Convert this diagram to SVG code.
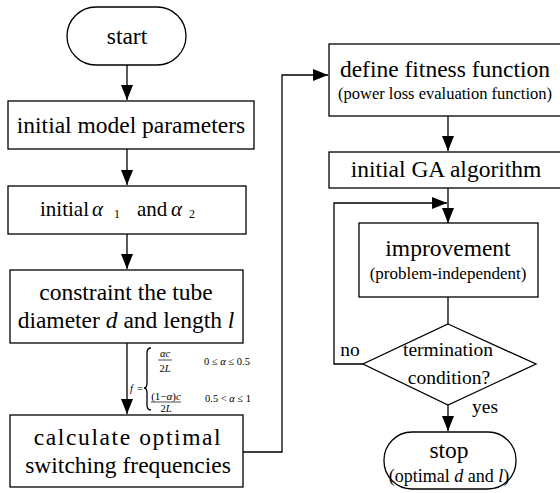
<svg xmlns="http://www.w3.org/2000/svg" width="560" height="493" viewBox="0 0 560 493">
<defs>
<style>
.n{fill:#fff;stroke:#000;stroke-width:1.3}
.c{fill:none;stroke:#000;stroke-width:1.3}
text{font-family:"Liberation Serif","Times New Roman",serif;fill:#000}
.t{font-size:23.5px;text-anchor:middle}
.s{font-size:16.5px;text-anchor:middle}
.d{font-size:19.5px;text-anchor:middle}
.f{font-size:10.5px}
.i{font-style:italic}
</style>
<marker id="ah" markerUnits="userSpaceOnUse" markerWidth="16" markerHeight="12" refX="15" refY="6" orient="auto">
<path d="M0,0 L15,6 L0,12 Z" fill="#000"/>
</marker>
</defs>
<rect width="560" height="493" fill="#fff"/>
<g id="connectors">
<path class="c" d="M127,65 V100" marker-end="url(#ah)"/>
<path class="c" d="M127,149 V185" marker-end="url(#ah)"/>
<path class="c" d="M127,234 V269" marker-end="url(#ah)"/>
<path class="c" d="M127,343 V414" marker-end="url(#ah)"/>
<path class="c" d="M243,452 H282 V75 H328" marker-end="url(#ah)"/>
<path class="c" d="M448,116 V151" marker-end="url(#ah)"/>
<path class="c" d="M448,188 V223" marker-end="url(#ah)"/>
<path class="c" d="M363,364 H334 V203 H447" marker-end="url(#ah)"/>
<path class="c" d="M448,297 V324"/>
<path class="c" d="M448,405 V431" marker-end="url(#ah)"/>
<text class="d" x="350" y="356">no</text>
<text class="d" x="485" y="413">yes</text>
</g>
<g id="formula" class="f">
<text x="130" y="392" class="i">f</text>
<text x="137" y="392">=</text>
<path class="c" d="M151,348 C148,348 147,350 147,353 V383 C147,386 146,388 144,388 C146,388 147,390 147,393 V405 C147,408 148,410 151,410" stroke-width="0.8"/>
<text x="165" y="357" text-anchor="middle"><tspan class="i">αc</tspan></text>
<path d="M158,360 H172" stroke="#000" stroke-width="0.7"/>
<text x="165" y="372" text-anchor="middle">2<tspan class="i">L</tspan></text>
<text x="166" y="400" text-anchor="middle" style="font-size:11px">(1−<tspan class="i">α</tspan>)<tspan class="i">c</tspan></text>
<path d="M151,402 H181" stroke="#000" stroke-width="0.7"/>
<text x="166" y="412" text-anchor="middle">2<tspan class="i">L</tspan></text>
<text x="204" y="365">0 ≤ <tspan class="i">α</tspan> ≤ 0.5</text>
<text x="205" y="402">0.5 &lt; <tspan class="i">α</tspan> ≤ 1</text>
</g>
<g id="start">
<rect class="n" x="67" y="7" width="119" height="58" rx="29"/>
<text class="t" x="127" y="44">start</text>
</g>
<g id="params">
<rect class="n" x="8" y="101" width="246" height="48"/>
<text class="t" x="131" y="133">initial model parameters</text>
</g>
<g id="alpha">
<rect class="n" x="8" y="186" width="238" height="48"/>
<text style="font-size:21px" y="216"><tspan x="40">initial</tspan><tspan x="92" class="i">α</tspan><tspan x="114" y="218" style="font-size:12px">1</tspan><tspan x="137" y="216">and</tspan><tspan x="171" class="i">α</tspan><tspan x="189" y="218" style="font-size:12px">2</tspan></text>
</g>
<g id="constraint">
<rect class="n" x="10" y="270" width="233" height="73"/>
<text class="t" x="126" y="300">constraint the tube</text>
<text class="t" x="126" y="328">diameter <tspan class="i">d</tspan> and length <tspan class="i">l</tspan></text>
</g>
<g id="calculate">
<rect class="n" x="10" y="415" width="233" height="72"/>
<text class="t" x="128" y="445" style="letter-spacing:1.6px">calculate optimal</text>
<text class="t" x="128" y="473">switching frequencies</text>
</g>
<g id="fitness">
<rect class="n" x="329" y="44" width="240" height="72"/>
<text class="t" x="445" y="77">define fitness function</text>
<text class="s" x="445" y="99">(power loss evaluation function)</text>
</g>
<g id="ga">
<rect class="n" x="329" y="152" width="240" height="36"/>
<text class="t" x="446" y="177">initial GA algorithm</text>
</g>
<g id="improvement">
<rect class="n" x="359" y="223" width="179" height="74"/>
<text class="t" x="448" y="256">improvement</text>
<text class="s" x="448" y="279" style="font-size:17px">(problem-independent)</text>
</g>
<g id="termination">
<path class="n" d="M448,324 L536,364 L448,405 L363,364 Z"/>
<text class="d" x="448" y="356">termination</text>
<text class="d" x="449" y="384">condition?</text>
</g>
<g id="stop">
<rect class="n" x="384" y="432" width="132" height="57" rx="28"/>
<text class="t" x="449" y="458">stop</text>
<text class="s" x="449" y="482" style="font-size:18px">(optimal <tspan class="i">d</tspan> and <tspan class="i">l</tspan>)</text>
</g>
</svg>
